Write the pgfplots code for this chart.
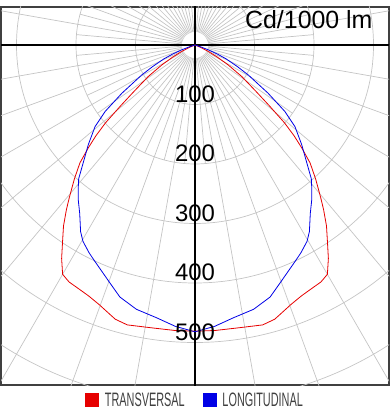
\documentclass[border=0pt]{standalone}
\usepackage{pgfplots}
\pgfplotsset{compat=1.18}
\usepackage{pgfplotstable}
\usepackage{fontspec}
\setmainfont{Liberation Sans}
\newfontfamily\legfont[FakeStretch=0.56]{Liberation Sans}
\definecolor{cred}{RGB}{230,0,0}
\definecolor{cblue}{RGB}{0,0,230}
\definecolor{gridc}{RGB}{196,196,196}

% angle from nadir (deg), intensity (cd/1000 lm)
\pgfplotstableread{
a r
-70 0
-67 10
-64 25
-61.5 43
-59 65
-56 95
-54.3 110
-52.5 132
-50.7 162
-49 199
-47.5 226
-46 250
-44.3 277
-42 303
-39.5 332
-38 351
-36 376
-34 398
-32 423
-30 445
-28 451
-25.5 454
-23 458
-20.3 465
-18 473
-16.2 480
-13.6 484
-9 481
-4 481
0 481
4 481
9 481
13.6 484
16.2 480
18 473
20.3 465
23 458
25.5 454
28 451
30 445
32 423
34 398
36 376
38 351
39.5 332
42 303
44.3 277
46 250
47.5 226
49 199
50.7 162
52.5 132
54.3 110
56 95
59 65
61.5 43
64 25
67 10
70 0
}\tblred

\pgfplotstableread{
a r
-75 0
-72 10
-70 24
-68 40
-66 57
-63 80
-60.6 103
-56.6 147
-53.5 188
-50.75 217
-47 245
-43.5 273
-41 298
-39 312
-37 326
-34.4 343
-31.5 368
-29.7 380
-27 392
-25 400
-20 423
-16.6 442
-12.5 455
-8 463
-4 474
0 482
4 474
8 463
12.5 455
16.6 442
20 423
25 400
27 392
29.7 380
31.5 368
34.4 343
37 326
39 312
41 298
43.5 273
47 245
50.75 217
53.5 188
56.6 147
60.6 103
63 80
66 57
68 40
70 24
72 10
75 0
}\tblblue

\begin{document}
\begin{tikzpicture}
\begin{axis}[
  scale only axis, width=388bp, height=378bp,
  xmin=-326.05, xmax=326.05, ymin=-571.43, ymax=63.87,
  axis line style={black!75, line width=1.2bp},
  xtick=\empty, ytick=\empty,
  clip=true,
  legend columns=2,
  legend style={draw=none, fill=none, at={(0.5,-0.04)}, anchor=center,
    font=\legfont\fontsize{19.5}{19.5}\selectfont, text=black!75,
    /tikz/every even column/.append style={column sep=16bp}},
  legend image code/.code={\fill[#1] (0bp,-6.5bp) rectangle (13bp,6.5bp); \path (17bp,0bp);},
]
% grid
\pgfplotsinvokeforeach{100,200,300,400,500,600,700}{
  \draw[gridc, line width=0.7bp] (axis cs:0,0) circle[radius=#1];
}
\pgfplotsinvokeforeach{0,10,...,350}{
  \draw[gridc, line width=0.7bp] (axis cs:{22*sin(#1)},{22*cos(#1)}) -- (axis cs:{800*sin(#1)},{800*cos(#1)});
}
\pgfplotsinvokeforeach{5,15,...,355}{
  \draw[gridc, line width=0.7bp] (axis cs:{22*sin(#1)},{22*cos(#1)}) -- (axis cs:{200*sin(#1)},{200*cos(#1)});
}
\draw[black, line width=1.1bp] (axis cs:-400,0) -- (axis cs:400,0);
\draw[black, line width=1.1bp] (axis cs:0,100) -- (axis cs:0,-700);

\addplot[cred, line width=0.8bp] table[x expr={\thisrow{r}*sin(\thisrow{a})}, y expr={-\thisrow{r}*cos(\thisrow{a})}] {\tblred};
\addlegendentry{TRANSVERSAL}
\addplot[cblue, line width=0.8bp] table[x expr={\thisrow{r}*sin(\thisrow{a})}, y expr={-\thisrow{r}*cos(\thisrow{a})}] {\tblblue};
\addlegendentry{LONGITUDINAL}

\node[font=\fontsize{24}{24}\selectfont, inner sep=0] at (axis cs:0,-82) {100};
\node[font=\fontsize{24}{24}\selectfont, inner sep=0] at (axis cs:0,-182) {200};
\node[font=\fontsize{24}{24}\selectfont, inner sep=0] at (axis cs:0,-282) {300};
\node[font=\fontsize{24}{24}\selectfont, inner sep=0] at (axis cs:0,-382) {400};
\node[font=\fontsize{24}{24}\selectfont, inner sep=0] at (axis cs:0,-482) {500};
\node[font=\fontsize{25}{25}\selectfont, inner sep=0, anchor=base east] at (axis cs:298.7,28.1) {Cd/1000 lm};
\end{axis}
\path (current axis.south west) ++(-1bp,-30bp);
\path (current axis.north east) ++(1bp,7bp);
\end{tikzpicture}
\end{document}
